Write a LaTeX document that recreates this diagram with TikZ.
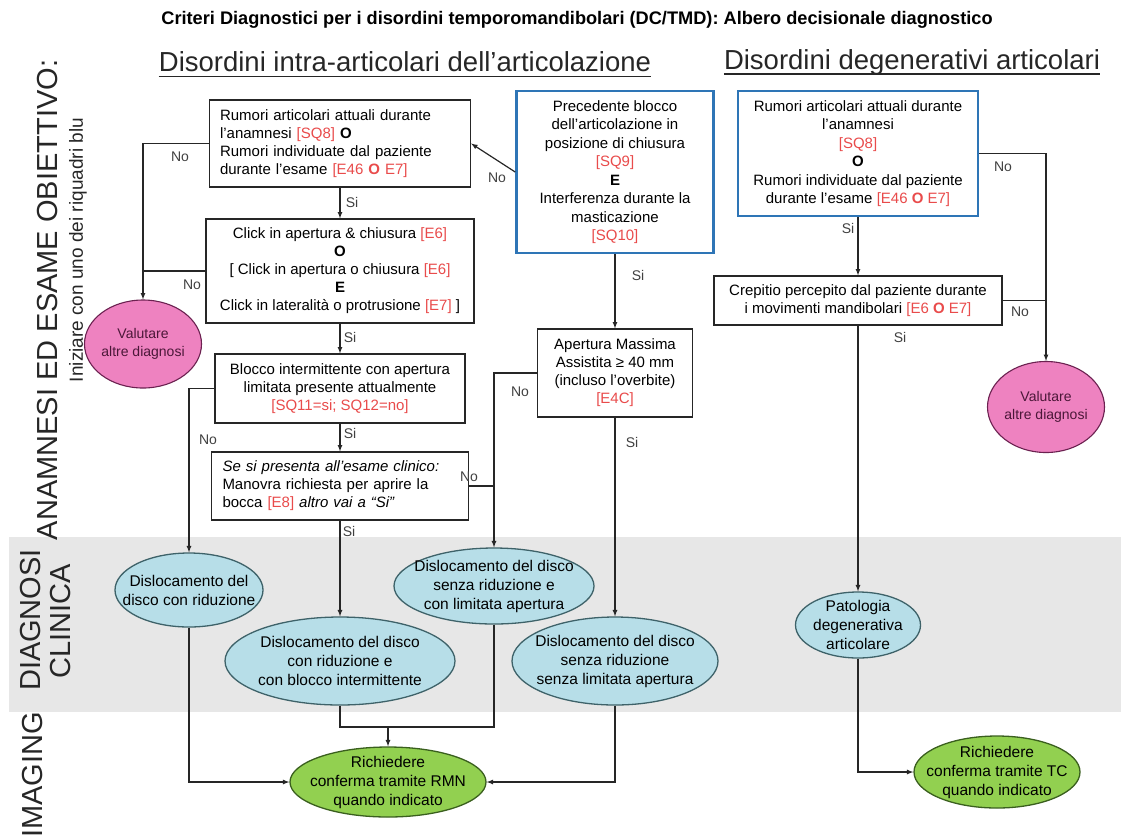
\documentclass[tikz,border=0pt]{standalone}
\usepackage{fontspec}
\setmainfont{Liberation Sans}
\usetikzlibrary{shapes.geometric}
\tikzset{>=latex}
\definecolor{tmdblue}{HTML}{2E75B6}
\definecolor{tmdred}{HTML}{E94B4B}
\definecolor{valpink}{HTML}{EE82C0}
\definecolor{valborder}{HTML}{6B2150}
\definecolor{diagfill}{HTML}{B7DEE8}
\definecolor{diagborder}{HTML}{3E6269}
\definecolor{imgfill}{HTML}{92D050}
\definecolor{imgborder}{HTML}{3A5F1E}
\definecolor{bandgrey}{HTML}{E7E7E7}
\definecolor{linegrey}{HTML}{262626}
\newcommand*{\rif}[1]{\textcolor{tmdred}{#1}}
\newcommand*{\rifO}{\textcolor{tmdred}{\textbf{O}}}
\tikzset{
  testbox/.style={draw=linegrey, line width=1.2pt, fill=white, inner sep=0pt, align=center, font=\fontsize{15}{18}\selectfont},
  bluebox/.style={testbox, draw=tmdblue, line width=2.6pt},
  valell/.style={ellipse, draw=valborder, line width=1.1pt, fill=valpink, inner sep=0pt},
  diagell/.style={ellipse, draw=diagborder, line width=1.3pt, fill=diagfill, inner sep=0pt},
  imgell/.style={ellipse, draw=imgborder, line width=1.3pt, fill=imgfill, inner sep=0pt},
  ellabel/.style={align=center, inner sep=0pt, font=\fontsize{15.5}{19}\selectfont},
  vallabel/.style={ellabel, font=\fontsize{14}{18}\selectfont, text=valborder!70!black},
  flow/.style={draw=linegrey, line width=1.2pt},
  answer/.style={font=\fontsize{14}{16}\selectfont, text=black!75, inner sep=1pt},
  header/.style={inner sep=0pt, font=\fontsize{27.5}{30}\selectfont, text=black!85},
  sezione/.style={rotate=90, inner sep=0pt, font=\fontsize{29}{30}\selectfont, text=black!85},
}

\begin{document}
\begin{tikzpicture}[x=1pt, y=-1pt]
  \useasboundingbox (0,0) rectangle (1126,836);
  \fill[bandgrey] (9,537) rectangle (1121,712);

  \node[font=\bfseries\fontsize{18.2}{20}\selectfont] (titolo) at (577,20) {Criteri Diagnostici per i disordini temporomandibolari (DC/TMD): Albero decisionale diagnostico};
  \node[header] (intra) at (405,62) {Disordini intra-articolari dell’articolazione};
  \node[header] (degen) at (912,62) {Disordini degenerativi articolari};
  \draw[line width=1.3pt, linegrey] ([yshift=-5pt]intra.base west) -- ([yshift=-5pt]intra.base east);
  \draw[line width=1.3pt, linegrey] ([yshift=-5pt]degen.base west) -- ([yshift=-5pt]degen.base east);

  \node[sezione] (anamnesi) at (48,300) {ANAMNESI ED ESAME OBIETTIVO:};
  \node[rotate=90, inner sep=0pt, font=\fontsize{19}{20}\selectfont, text=black!85] (iniziare) at (78,250) {Iniziare con uno dei riquadri blu};
  \node[sezione] (diagnosi) at (31,620) {DIAGNOSI};
  \node[sezione] (clinica) at (61,621) {CLINICA};
  \node[sezione] (imaging) at (33,775) {IMAGING};

  \node[testbox, minimum width=261pt, minimum height=87pt, text width=240pt, align=left] (rumori) at (340,143.5)
    {Rumori articolari attuali durante\\l’anamnesi \rif{[SQ8]} \textbf{O}\\Rumori individuate dal paziente\\durante l’esame \rif{[E46} \rifO{} \rif{E7]}};
  \node[testbox, minimum width=268pt, minimum height=104pt] (click) at (340,271)
    {Click in apertura \& chiusura \rif{[E6]}\\\textbf{O}\\{[} Click in apertura o chiusura \rif{[E6]}\\\textbf{E}\\Click in lateralità o protrusione \rif{[E7]} ]};
  \node[testbox, minimum width=250pt, minimum height=69pt] (blocco) at (340,388.5)
    {Blocco intermittente con apertura\\limitata presente attualmente\\\rif{[SQ11=si; SQ12=no]}};
  \node[testbox, minimum width=257pt, minimum height=68pt, text width=235pt, align=left] (manovra) at (340,486)
    {\textit{Se si presenta all’esame clinico:}\\Manovra richiesta per aprire la\\bocca \rif{[E8]} \textit{altro vai a “Si”}};
  \node[bluebox, minimum width=197pt, minimum height=162pt, font=\fontsize{15}{18.5}\selectfont] (precedente) at (615,172)
    {Precedente blocco\\dell’articolazione in\\posizione di chiusura\\\rif{[SQ9]}\\\textbf{E}\\Interferenza durante la\\masticazione\\\rif{[SQ10]}};
  \node[testbox, minimum width=155pt, minimum height=88pt] (apertura) at (615,373)
    {Apertura Massima\\Assistita ≥ 40 mm\\(incluso l’overbite)\\\rif{[E4C]}};
  \node[bluebox, minimum width=240pt, minimum height=125pt, font=\fontsize{15}{18.5}\selectfont] (rumorideg) at (858,153.5)
    {Rumori articolari attuali durante\\l’anamnesi\\\rif{[SQ8]}\\\textbf{O}\\Rumori individuate dal paziente\\durante l’esame \rif{[E46} \rifO{} \rif{E7]}};
  \node[testbox, minimum width=288pt, minimum height=49pt] (crepitio) at (858,300.5)
    {Crepitio percepito dal paziente durante\\i movimenti mandibolari \rif{[E6} \rifO{} \rif{E7]}};

  \node[valell, minimum width=117pt, minimum height=88pt, label={[vallabel]center:Valutare\\altre diagnosi}] (valsx) at (143,344) {};
  \node[valell, minimum width=117pt, minimum height=91pt, label={[vallabel]center:Valutare\\altre diagnosi}] (valdx) at (1046,407) {};
  \node[diagell, minimum width=148pt, minimum height=74pt, label={[ellabel]center:Dislocamento del\\disco con riduzione}] (dcr) at (189,590) {};
  \node[diagell, minimum width=230pt, minimum height=88pt, label={[ellabel]center:Dislocamento del disco\\con riduzione e\\con blocco intermittente}] (dcrbi) at (340,661) {};
  \node[diagell, minimum width=200pt, minimum height=76pt, label={[ellabel]center:Dislocamento del disco\\senza riduzione e\\con limitata apertura}] (dsrla) at (494,586) {};
  \node[diagell, minimum width=206pt, minimum height=88pt, label={[ellabel]center:Dislocamento del disco\\senza riduzione\\senza limitata apertura}] (dsrsla) at (615,661) {};
  \node[diagell, minimum width=125pt, minimum height=66pt, label={[ellabel]center:Patologia\\degenerativa\\articolare}] (patdeg) at (858,625) {};
  \node[imgell, minimum width=196pt, minimum height=70pt, label={[ellabel]center:Richiedere\\conferma tramite RMN\\quando indicato}] (rmn) at (388,782) {};
  \node[imgell, minimum width=166pt, minimum height=72pt, label={[ellabel]center:Richiedere\\conferma tramite TC\\quando indicato}] (tc) at (997,772) {};

  \draw[flow,->] (rumori.west) -| (valsx.north);
  \draw[flow] (click.west) -- (click.west -| valsx.north);
  \draw[flow,->] (rumori.south) -- (click.north);
  \draw[flow,->] (click.south) -- (blocco.north);
  \draw[flow,->] (blocco.south) -- (manovra.north);
  \draw[flow,->] (blocco.west) -| (dcr.north);
  \draw[flow,->] (manovra.south) -- (dcrbi.north);
  \draw[flow] (manovra.east) -- (manovra.east -| dsrla.north);
  \draw[flow,->] (apertura.west) -| (dsrla.north);
  \draw[flow,->] (precedente.west) -- (rumori.east);
  \draw[flow,->] (precedente.south) -- (apertura.north);
  \draw[flow,->] (apertura.south) -- (dsrsla.north);
  \draw[flow,->] (rumorideg.south) -- (crepitio.north);
  \draw[flow,->] (rumorideg.east) -| (valdx.north);
  \draw[flow] (crepitio.east) -- (crepitio.east -| valdx.north);
  \draw[flow,->] (crepitio.south) -- (patdeg.north);
  \draw[flow,->] (dcr.south) |- (rmn.west);
  \draw[flow,->] (dsrsla.south) |- (rmn.east);
  \coordinate (unione) at (388,727);
  \draw[flow] (dcrbi.south) |- (unione);
  \draw[flow] (dsrla.south) |- (unione);
  \draw[flow,->] (unione) -- (rmn.north);
  \draw[flow,->] (patdeg.south) |- (tc.west);

  \node[answer] (no1) at (180,157) {No};
  \node[answer] (si1) at (352,202) {Si};
  \node[answer] (no2) at (192,285) {No};
  \node[answer] (si2) at (350,337) {Si};
  \node[answer] (no3) at (208,440) {No};
  \node[answer] (si3) at (350,433) {Si};
  \node[answer] (no4) at (469,477) {No};
  \node[answer] (si4) at (349,531) {Si};
  \node[answer] (no5) at (497,178) {No};
  \node[answer] (si5) at (638,275) {Si};
  \node[answer] (no6) at (520,392) {No};
  \node[answer] (si6) at (632,442) {Si};
  \node[answer] (no7) at (1003,167) {No};
  \node[answer] (si7) at (848,228) {Si};
  \node[answer] (no8) at (1020,312) {No};
  \node[answer] (si8) at (900,337) {Si};
\end{tikzpicture}
\end{document}
